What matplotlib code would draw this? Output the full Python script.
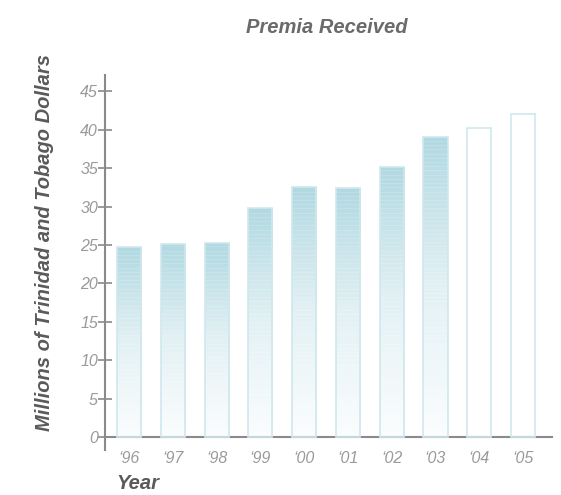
import numpy as np
import matplotlib
matplotlib.use("Agg")
import matplotlib.pyplot as plt
from matplotlib.colors import LinearSegmentedColormap

plt.rcParams['font.family'] = ['Liberation Sans Narrow', 'Liberation Sans', 'DejaVu Sans']

# premia by year, in millions of TT dollars
years = ["\u201896", "\u201897", "\u201898", "\u201899", "\u201800",
         "\u201801", "\u201802", "\u201803", "\u201804", "\u201805"]
premia = [24.7, 25.1, 25.2, 29.8, 32.5, 32.4, 35.2, 39.0, 40.2, 42.1]
projected = [False] * 8 + [True, True]

fig = plt.figure(figsize=(5.61, 4.95), dpi=100)
ax = fig.add_axes([0.187, 0.091, 0.797, 0.757])

x = np.arange(len(years))
width = 0.55
cmap = LinearSegmentedColormap.from_list("fade", ["#fbfdfe", "#e3f1f4", "#b1d9e2"])
grad = np.linspace(0, 1, 256).reshape(-1, 1)

bars = ax.bar(x, premia, width=width, facecolor="none",
              edgecolor="#cfe7ed", linewidth=1.2, zorder=3)
for b, proj in zip(bars, projected):
    if proj:
        continue
    x0, h = b.get_x(), b.get_height()
    im = ax.imshow(grad, cmap=cmap, aspect="auto", origin="lower",
                   extent=[x0, x0 + width, 0, h], zorder=2)
    im.set_clip_path(b)
    # faint horizontal streaks across the fill
    for y in np.arange(0.6, h, 0.55):
        ax.plot([x0, x0 + width], [y, y], color="white", lw=0.5,
                alpha=0.22, zorder=2.5, clip_path=b)

ax.set_xlim(-0.55, 9.66)
ax.set_ylim(-1.7, 47.1)

for s in ["top", "right"]:
    ax.spines[s].set_visible(False)
ax.spines["bottom"].set_position(("data", 0))
ax.spines["bottom"].set_color("#8a8a8a")
ax.spines["left"].set_color("#8a8a8a")
ax.spines["bottom"].set_linewidth(1.5)
ax.spines["left"].set_linewidth(1.5)

ax.set_yticks(range(0, 50, 5))
ax.tick_params(axis="y", direction="inout", length=10, width=1.2,
               color="#8a8a8a", labelcolor="#9a9a9a", labelsize=11.5, pad=0)
for t in ax.get_yticklabels():
    t.set_fontstyle("italic")

ax.set_xticks(x)
ax.set_xticklabels(years, fontstyle="italic", color="#9a9a9a", fontsize=11.5)
ax.tick_params(axis="x", length=0, pad=10)

fig.text(0.583, 0.945, "Premia Received", ha="center", va="center",
         fontsize=14.5, fontweight="bold", fontstyle="italic", color="#6a6a6a")
fig.text(0.08, 0.51, "Millions of Trinidad and Tobago Dollars", rotation=90,
         ha="center", va="center", fontsize=14.5, fontweight="bold",
         fontstyle="italic", color="#5a5a5a")
fig.text(0.207, 0.005, "Year", ha="left", va="bottom", fontsize=14.5,
         fontweight="bold", fontstyle="italic", color="#5a5a5a")

fig.savefig("out.png", dpi=100, facecolor="white")
